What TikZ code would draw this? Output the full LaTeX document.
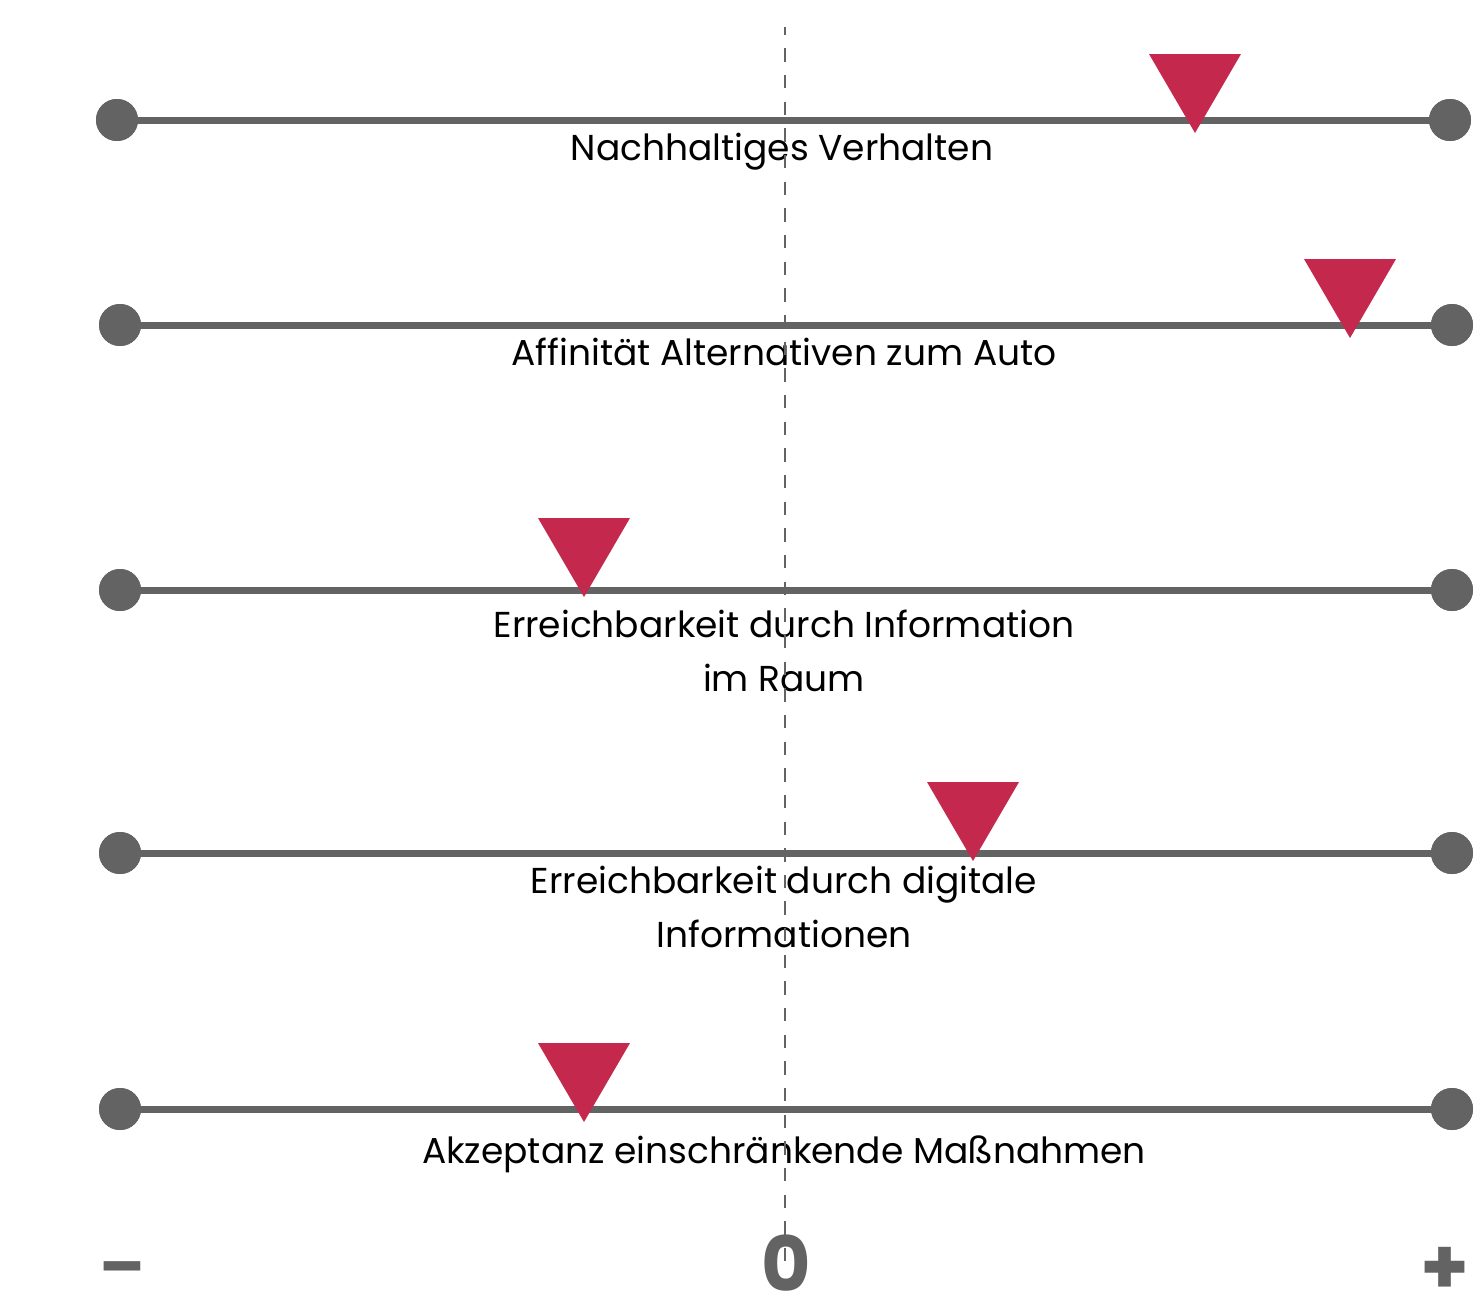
\documentclass[tikz,border=0pt]{standalone}
\usepackage{fontspec}
\setmainfont{Poppins}
\definecolor{axisgray}{HTML}{636363}
\definecolor{markred}{HTML}{C4294D}
\begin{document}
\begin{tikzpicture}[x=1pt,y=-1pt,
  dot/.style={circle,fill=axisgray,inner sep=0pt,minimum size=42pt},
  axisline/.style={draw=axisgray,line width=7pt},
  marker/.style={fill=markred},
  lbl/.style={font=\fontsize{36}{54}\selectfont,text=black,anchor=base,align=center,inner sep=0pt},
  endlbl/.style={text=axisgray,inner sep=0pt,anchor=center},
  zeroline/.style={draw=axisgray,line width=2.6pt,dash pattern=on 13.33pt off 13.33pt,dash phase=5.3pt}]
\useasboundingbox (0,0) rectangle (1474,1294);
% dots
\node[dot] (l1) at (117,120) {};
\node[dot] (r1) at (1450,120) {};
\node[dot] (l2) at (120,325) {};
\node[dot] (r2) at (1452,325) {};
\node[dot] (l3) at (120,590) {};
\node[dot] (r3) at (1452,590) {};
\node[dot] (l4) at (120,853) {};
\node[dot] (r4) at (1452,853) {};
\node[dot] (l5) at (120,1109) {};
\node[dot] (r5) at (1452,1109) {};
% lines
\foreach \i in {1,...,5} {\draw[axisline] (l\i.center) -- (r\i.center);}
\foreach \i in {1,...,5} {\node[dot] at (l\i) {}; \node[dot] at (r\i) {};}
% markers
\foreach \cx/\ty in {1195/54,1350/259,584/518,973/782,584/1043} {
  \fill[marker] (\cx-46,\ty) -- (\cx+46,\ty) -- (\cx,\ty+79) -- cycle;
}
% labels
\node[lbl] (t1) at (782,160) {Nachhaltiges Verhalten};
\node[lbl] (t2) at (784,365) {Affinität Alternativen zum Auto};
\node[lbl] (t3) at (784,637) {Erreichbarkeit durch Information};
\node[lbl] (t3b) at (784,691) {im Raum};
\node[lbl] (t4) at (784,893) {Erreichbarkeit durch digitale};
\node[lbl] (t4b) at (784,947) {Informationen};
\node[lbl] (t5) at (784,1163) {Akzeptanz einschränkende Maßnahmen};
% zero line
\coordinate (ztop) at (785,27);
\coordinate (zbot) at (785,1264);
\draw[zeroline] (ztop) -- (zbot);
% end labels
\node[endlbl,font=\bfseries\fontsize{66}{66}\selectfont] (minus) at (122,1276) {–};
\node[endlbl,font=\bfseries\fontsize{76}{76}\selectfont] (zero) at (786,1263) {0};
\node[endlbl,font=\bfseries\fontsize{78}{78}\selectfont] (plus) at (1445,1271) {+};
\end{tikzpicture}
\end{document}
